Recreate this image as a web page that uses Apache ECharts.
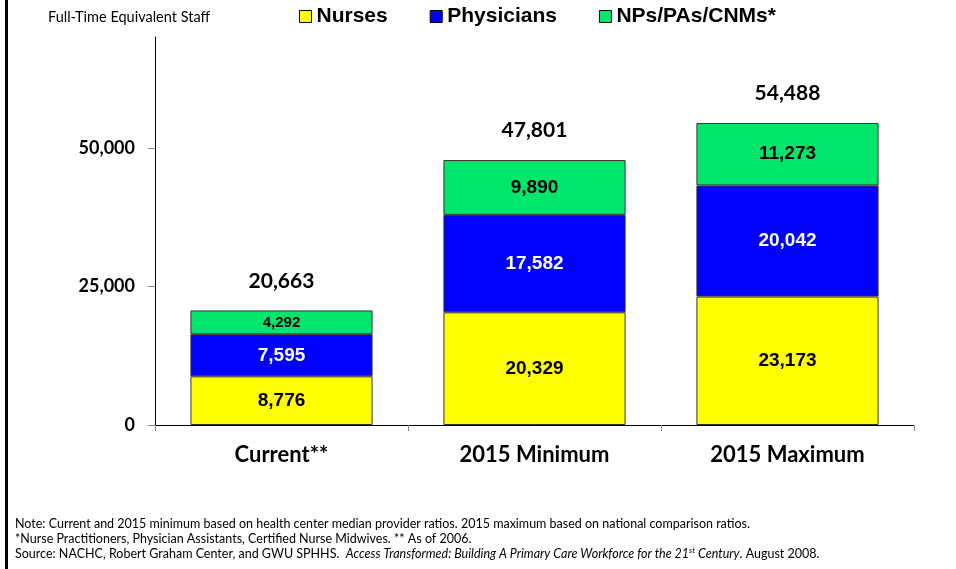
<!DOCTYPE html>
<html>
<head>
<meta charset="utf-8">
<script src="https://cdn.jsdelivr.net/npm/echarts@6/dist/echarts.min.js"></script>
<style>
  html, body { margin: 0; padding: 0; background: #fff; }
  #chart { width: 956px; height: 569px; }
</style>
</head>
<body>
<div id="chart"></div>
<script>
const categories = ["Current**", "2015 Minimum", "2015 Maximum"];
const nurses = [8776, 20329, 23173];
const physicians = [7595, 17582, 20042];
const npsPasCnms = [4292, 9890, 11273];
const yTicks = [0, 25000, 50000];

const totals = categories.map((c, i) => nurses[i] + physicians[i] + npsPasCnms[i]);

const fmt = (v) => v.toLocaleString("en-US");
const calibriLike = "Lato, 'Open Sans', sans-serif";
const arialLike = "'Liberation Sans', Arial, sans-serif";

const segLabel = (color) => ({
    show: true,
    position: "inside",
    formatter: (p) => (p.value < 5000 ? "{s|" : "{b|") + fmt(p.value) + "}",
    rich: {
        b: { fontFamily: arialLike, fontWeight: "bold", fontSize: 19, color: color },
        s: { fontFamily: arialLike, fontWeight: "bold", fontSize: 15, color: color }
    }
});

const barStyle = (color) => ({ color: color, borderColor: "#333", borderWidth: 1 });

const option = {
    animation: false,
    backgroundColor: "#fff",
    grid: { left: 155, right: 42, top: 37, bottom: 144 },
    legend: {
        data: ["Nurses", "Physicians", "NPs/PAs/CNMs*"],
        left: 294,
        top: 1,
        itemWidth: 12,
        itemHeight: 12,
        itemGap: 42,
        icon: "rect",
        itemStyle: { borderColor: "#000", borderWidth: 1 },
        textStyle: { fontFamily: arialLike, fontWeight: "bold", fontSize: 21, color: "#000" }
    },
    xAxis: {
        type: "category",
        data: categories,
        axisLine: { lineStyle: { color: "#000", width: 1 } },
        axisTick: { show: true, length: 6, lineStyle: { color: "#888" } },
        axisLabel: {
            margin: 19,
            fontFamily: calibriLike,
            fontWeight: "bold",
            fontSize: 22,
            color: "#000"
        }
    },
    yAxis: {
        type: "value",
        min: 0,
        max: 70000,
        interval: 25000,
        splitLine: { show: false },
        axisLine: { show: true, lineStyle: { color: "#000", width: 1 } },
        axisTick: { show: true, length: 7, customValues: yTicks, lineStyle: { color: "#888" } },
        axisLabel: {
            margin: 20,
            customValues: yTicks,
            formatter: (v) => fmt(v),
            fontFamily: calibriLike,
            fontWeight: "bold",
            fontSize: 18,
            color: "#000"
        }
    },
    series: [
        {
            name: "Nurses",
            type: "bar",
            stack: "staff",
            barWidth: "72%",
            data: nurses,
            itemStyle: barStyle("#FFFF00"),
            label: segLabel("#000")
        },
        {
            name: "Physicians",
            type: "bar",
            stack: "staff",
            barWidth: "72%",
            data: physicians,
            itemStyle: barStyle("#0000FF"),
            label: segLabel("#fff")
        },
        {
            name: "NPs/PAs/CNMs*",
            type: "bar",
            stack: "staff",
            barWidth: "72%",
            data: npsPasCnms,
            itemStyle: barStyle("#00E56C"),
            label: segLabel("#000")
        },
        {
            name: "Total",
            type: "scatter",
            symbolSize: 0,
            data: totals,
            silent: true,
            itemStyle: { opacity: 1 },
            label: {
                show: true,
                position: "top",
                distance: 19,
                formatter: (p) => "{t|" + fmt(p.value) + "}",
                rich: {
                    t: { fontFamily: calibriLike, fontWeight: "bold", fontSize: 21, color: "#000" }
                }
            }
        }
    ],
    graphic: [
        {
            type: "rect",
            shape: { x: 5, y: 0, width: 3, height: 569 },
            style: { fill: "#000" }
        },
        {
            type: "text",
            left: 48,
            top: 10,
            style: {
                text: "Full-Time Equivalent Staff",
                font: "14.5px " + calibriLike,
                fill: "#000"
            }
        },
        {
            type: "text",
            left: 15,
            top: 517,
            style: {
                text: "Note: Current and 2015 minimum based on health center median provider ratios. 2015 maximum based on national comparison ratios.",
                font: "12.5px " + calibriLike,
                fill: "#000"
            }
        },
        {
            type: "text",
            left: 15,
            top: 532,
            style: {
                text: "*Nurse Practitioners, Physician Assistants, Certified Nurse Midwives. ** As of 2006.",
                font: "12.5px " + calibriLike,
                fill: "#000"
            }
        },
        {
            type: "text",
            left: 15,
            top: 546,
            style: {
                text: "Source: NACHC, Robert Graham Center, and GWU SPHHS.  {i|Access Transformed: Building A Primary Care Workforce for the 21}{sup|st}{i| Century}. August 2008.",
                font: "12.5px " + calibriLike,
                fill: "#000",
                rich: {
                    i: { fontFamily: calibriLike, fontSize: 12.5, fontStyle: "italic", lineHeight: 16 },
                    sup: { fontFamily: calibriLike, fontSize: 8, fontStyle: "italic", lineHeight: 16, padding: [0, 0, 7, 0] }
                }
            }
        }
    ]
};

const myChart = echarts.init(document.getElementById("chart"));
myChart.setOption(option);
</script>
</body>
</html>
